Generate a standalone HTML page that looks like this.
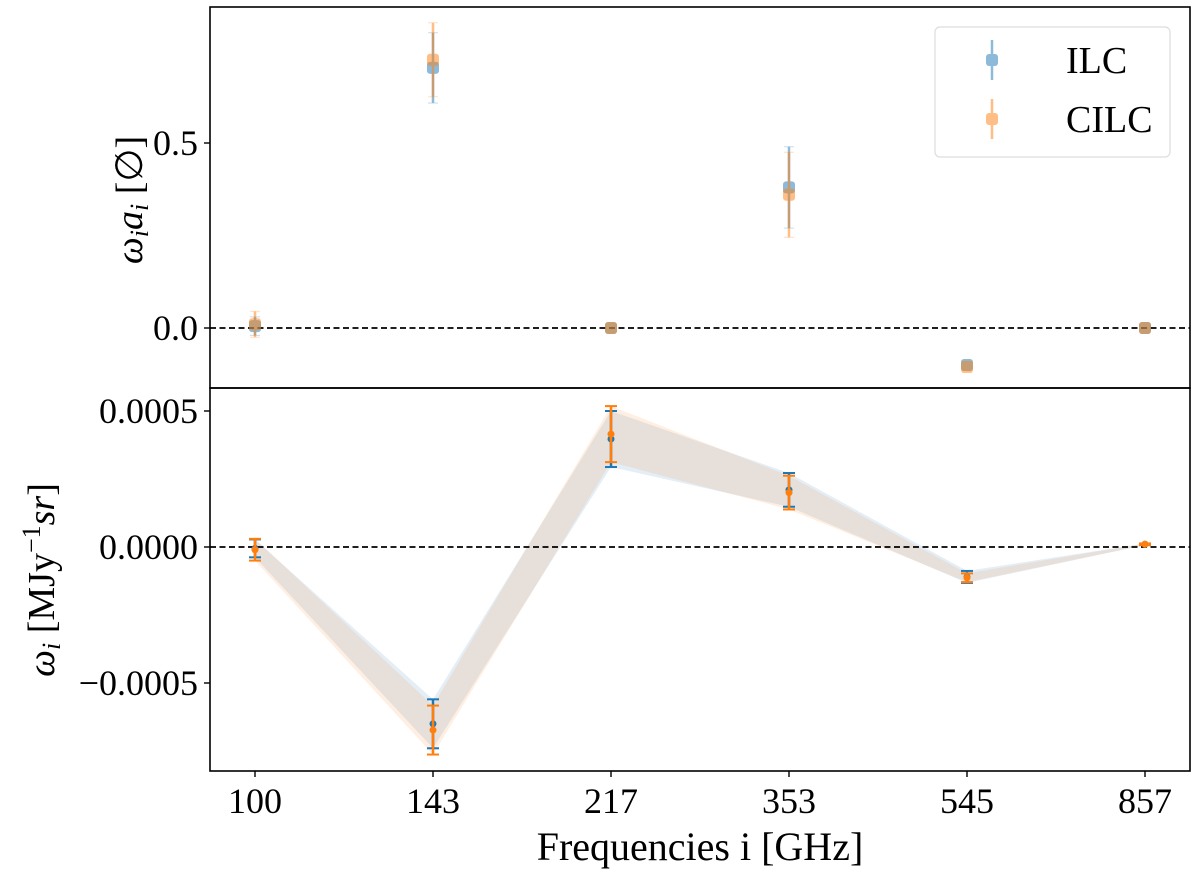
<!DOCTYPE html>
<html><head><meta charset="utf-8"><style>
body{margin:0;background:#fff}
svg text{font-family:"Liberation Serif",serif;fill:#000}
</style></head><body>
<svg id="chart" width="1200" height="875" viewBox="0 0 1200 875" xmlns="http://www.w3.org/2000/svg">
<g id="g"></g>
</svg>
<script>
const categories=["100","143","217","353","545","857"];
const topIlc=[0.005,0.703,0.0,0.38,-0.10,0.0];
const topIlcErr=[0.025,0.095,0.005,0.11,0.012,0.003];
const topCilc=[0.01,0.725,0.0,0.36,-0.105,0.0];
const topCilcErr=[0.035,0.10,0.005,0.115,0.015,0.003];
const botIlc=[-0.000005,-0.00065,0.000397,0.00021,-0.00011,0.00001];
const botIlcErr=[0.000033,0.00009,0.000103,0.000062,0.000022,0.000003];
const botCilc=[-0.00001,-0.000673,0.000415,0.0002,-0.000113,0.00001];
const botCilcErr=[0.00004,0.00009,0.000103,0.000062,0.000016,0.000003];
const topTicks=[0.0,0.5];
const topTickLabels=["0.0","0.5"];
const botTicks=[-0.0005,0,0.0005];
const botTickLabels=["\u22120.0005","0.0000","0.0005"];

const NS="http://www.w3.org/2000/svg";
const g=document.getElementById('g');
function el(t,a,p){const e=document.createElementNS(NS,t);for(const k in a)e.setAttribute(k,a[k]);(p||g).appendChild(e);return e;}
const L=210,R=1190,T1=7,B1=388,B2=771;
const xs=i=>255+i*178;
const y1=v=>328-v*370;
const y2=v=>547-v*272000;
const BLUE="#1f77b4",ORANGE="#ff7f0e";

function band(vals,errs,col,name){
  let up=vals.map((v,i)=>xs(i)+","+y2(v+errs[i]));
  let dn=vals.map((v,i)=>xs(i)+","+y2(v-errs[i])).reverse();
  const p=el('polygon',{points:up.concat(dn).join(" "),fill:col,'fill-opacity':0.12});
  
  
}
band(botIlc,botIlcErr,BLUE,'ilc-band');
band(botCilc,botCilcErr,ORANGE,'cilc-band');

let z=el('line',{x1:L,x2:R,y1:y1(0),y2:y1(0),stroke:'#000','stroke-width':1.8,'stroke-dasharray':'6,3.5'});

z=el('line',{x1:L,x2:R,y1:y2(0),y2:y2(0),stroke:'#000','stroke-width':1.8,'stroke-dasharray':'6,3.5'});


function topSeries(vals,errs,col,name){
  vals.forEach((v,i)=>{
    const x=xs(i);
    const gg=el('g',{opacity:0.5});
    
    
    el('line',{x1:x,x2:x,y1:y1(v+errs[i]),y2:y1(v-errs[i]),stroke:col,'stroke-width':2.5},gg);
    el('line',{x1:x-5,x2:x+5,y1:y1(v+errs[i]),y2:y1(v+errs[i]),stroke:col,'stroke-width':1,'stroke-opacity':0.5},gg);
    el('line',{x1:x-5,x2:x+5,y1:y1(v-errs[i]),y2:y1(v-errs[i]),stroke:col,'stroke-width':1,'stroke-opacity':0.5},gg);
    el('rect',{x:x-6,y:y1(v)-6,width:12,height:12,rx:3,fill:col},gg);
  });
}
topSeries(topIlc,topIlcErr,BLUE,'ilc-top');
topSeries(topCilc,topCilcErr,ORANGE,'cilc-top');

function botSeries(vals,errs,col,name){
  vals.forEach((v,i)=>{
    const x=xs(i);
    const gg=el('g',{});
    
    
    el('line',{x1:x,x2:x,y1:y2(v+errs[i]),y2:y2(v-errs[i]),stroke:col,'stroke-width':2.5},gg);
    el('line',{x1:x-6,x2:x+6,y1:y2(v+errs[i]),y2:y2(v+errs[i]),stroke:col,'stroke-width':2},gg);
    el('line',{x1:x-6,x2:x+6,y1:y2(v-errs[i]),y2:y2(v-errs[i]),stroke:col,'stroke-width':2},gg);
    el('circle',{cx:x,cy:y2(v),r:3.5,fill:col},gg);
  });
}
botSeries(botIlc,botIlcErr,BLUE,'ilc-bottom');
botSeries(botCilc,botCilcErr,ORANGE,'cilc-bottom');

let f=el('rect',{x:L,y:T1,width:R-L,height:B1-T1,fill:'none',stroke:'#000','stroke-width':1.6});

f=el('rect',{x:L,y:B1,width:R-L,height:B2-B1,fill:'none',stroke:'#000','stroke-width':1.6});


topTicks.forEach((v,i)=>{
  el('line',{x1:L-6,x2:L,y1:y1(v),y2:y1(v),stroke:'#000','stroke-width':1.4});
  const t=el('text',{x:L-12,y:y1(v)+12,'text-anchor':'end','font-size':36});
  t.textContent=topTickLabels[i];
  
});
botTicks.forEach((v,i)=>{
  el('line',{x1:L-6,x2:L,y1:y2(v),y2:y2(v),stroke:'#000','stroke-width':1.4});
  const t=el('text',{x:L-12,y:y2(v)+12,'text-anchor':'end','font-size':36});
  t.textContent=botTickLabels[i];
  
});
categories.forEach((c,i)=>{
  el('line',{x1:xs(i),x2:xs(i),y1:B2,y2:B2+6,stroke:'#000','stroke-width':1.4});
  const t=el('text',{x:xs(i),y:B2+42,'text-anchor':'middle','font-size':36});
  t.textContent=c;
  
});

let t=el('text',{x:700,y:860,'text-anchor':'middle','font-size':40});
t.textContent='Frequencies i [GHz]';

t=el('text',{x:0,y:0,'text-anchor':'middle','font-size':38,transform:'translate(142,200) rotate(-90)'});
t.innerHTML='<tspan font-style="italic">ω<tspan font-size="26" dy="6">i</tspan><tspan dy="-6">a</tspan><tspan font-size="26" dy="6">i</tspan></tspan><tspan dy="-6"> [∅]</tspan>';

t=el('text',{x:0,y:0,'text-anchor':'middle','font-size':38,transform:'translate(54,580) rotate(-90)'});
t.innerHTML='<tspan font-style="italic">ω<tspan font-size="26" dy="6">i</tspan></tspan><tspan dy="-6"> [MJy</tspan><tspan font-size="26" dy="-14">−1</tspan><tspan dy="14" font-style="italic">sr</tspan>]';


const lg=el('g',{});

el('rect',{x:935,y:27,width:235,height:130,rx:5,fill:'#fff','fill-opacity':0.8,stroke:'#ddd','stroke-width':1.2},lg);
[["ILC",BLUE,60],["CILC",ORANGE,119]].forEach(([n,c,y])=>{
  const e=el('g',{},lg);
  
  const m=el('g',{opacity:0.5},e);
  el('line',{x1:992,x2:992,y1:y-20,y2:y+20,stroke:c,'stroke-width':2.5},m);
  el('rect',{x:986,y:y-6,width:12,height:12,rx:3,fill:c},m);
  const tx=el('text',{x:1066,y:y+13,'font-size':38},e);
  tx.textContent=n;
});
</script>
</body></html>
